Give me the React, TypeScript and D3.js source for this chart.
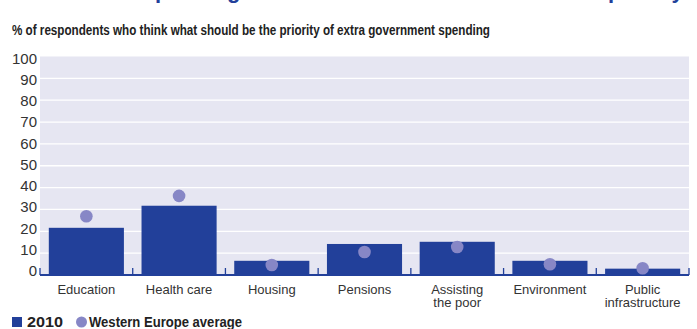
import React from "react";
import * as d3 from "d3";

const categories: string[][] = [
  ["Education"],
  ["Health care"],
  ["Housing"],
  ["Pensions"],
  ["Assisting", "the poor"],
  ["Environment"],
  ["Public", "infrastructure"],
];
const values2010: number[] = [21.6, 31.7, 6.5, 14.2, 15.2, 6.5, 2.9];
const westernEurope: number[] = [26.9, 36.2, 4.6, 10.5, 12.8, 4.9, 3.1];
const yTicks: number[] = [0, 10, 20, 30, 40, 50, 60, 70, 80, 90, 100];
const subtitle = "% of respondents who think what should be the priority of extra government spending";
const legendLabels = ["2010", "Western Europe average"];

const W = 697;
const H = 329;
const BAR = "#22409a";
const DOT = "#8787c6";
const BG = "#e6e6f2";
const FONT = "'Liberation Sans', Arial, sans-serif";

export default function App() {
  const left = 40;
  const right = 689;
  const top = 56.5;
  const bottom = 275;
  const keys = categories.map((c) => c.join(" "));
  const x = d3.scaleBand<string>().domain(keys).range([left, right]).paddingInner(0.19).paddingOuter(0.095);
  const xb = d3.scaleBand<string>().domain(keys).range([left, right]);
  const y = d3.scaleLinear().domain([0, 100]).range([bottom, top]);
  const yLab = d3.scaleLinear().domain([0, 100]).range([270.5, 58]);

  return (
    <svg
      width={W}
      height={H}
      style={{ position: "fixed", left: 0, top: 0, display: "block" }}
      fontFamily={FONT}
    >
      <rect width={W} height={H} fill="#ffffff" />
      {/* clipped title (only descenders visible) */}
      <text y={-2} fontSize={22} fontWeight="bold" fill={BAR}>
        <tspan x={18}>Health care spending is the</tspan>
        <tspan x={608}>priority</tspan>
      </text>
      <text x={12} y={35} fontSize={14} fontWeight="bold" fill="#222" textLength={478} lengthAdjust="spacingAndGlyphs">
        {subtitle}
      </text>
      <rect x={left} y={top} width={right - left} height={bottom - top} fill={BG} />
      {yTicks.filter((t) => t > 0 && t < 100).map((t) => (
        <line key={t} x1={left} x2={right} y1={y(t)} y2={y(t)} stroke="#ffffff" strokeWidth={1.3} />
      ))}
      {yTicks.map((t) => (
        <text key={t} x={37} y={yLab(t)} textAnchor="end" dominantBaseline="central" fontSize={15} fill="#333">
          {t}
        </text>
      ))}
      {keys.map((k, i) => (
        <rect key={k} x={x(k)} y={y(values2010[i])} width={x.bandwidth()} height={bottom - y(values2010[i])} fill={BAR} />
      ))}
      <line x1={left} x2={right} y1={bottom} y2={bottom} stroke={BAR} strokeWidth={2} />
      {[...keys.map((k) => xb(k) as number), right].map((px, i) => (
        <line key={i} x1={px} x2={px} y1={bottom} y2={bottom - 7} stroke={BAR} strokeWidth={1.3} />
      ))}
      {keys.map((k, i) => (
        <circle key={k} cx={(x(k) as number) + x.bandwidth() / 2} cy={y(westernEurope[i])} r={6.3} fill={DOT} />
      ))}
      {categories.map((lines, i) => (
        <text key={i} textAnchor="middle" fontSize={13} fill="#333">
          {lines.map((l, j) => (
            <tspan key={j} x={(xb(keys[i]) as number) + xb.bandwidth() / 2} y={294 + j * 13}>
              {l}
            </tspan>
          ))}
        </text>
      ))}
      <rect x={12} y={317} width={10} height={10} fill={BAR} />
      <text x={27} y={327} fontSize={14.5} fontWeight="bold" fill="#222" textLength={36} lengthAdjust="spacingAndGlyphs">
        {legendLabels[0]}
      </text>
      <circle cx={81.5} cy={322} r={5.5} fill={DOT} />
      <text x={89} y={327} fontSize={14.5} fontWeight="bold" fill="#222" textLength={153} lengthAdjust="spacingAndGlyphs">
        {legendLabels[1]}
      </text>
    </svg>
  );
}
